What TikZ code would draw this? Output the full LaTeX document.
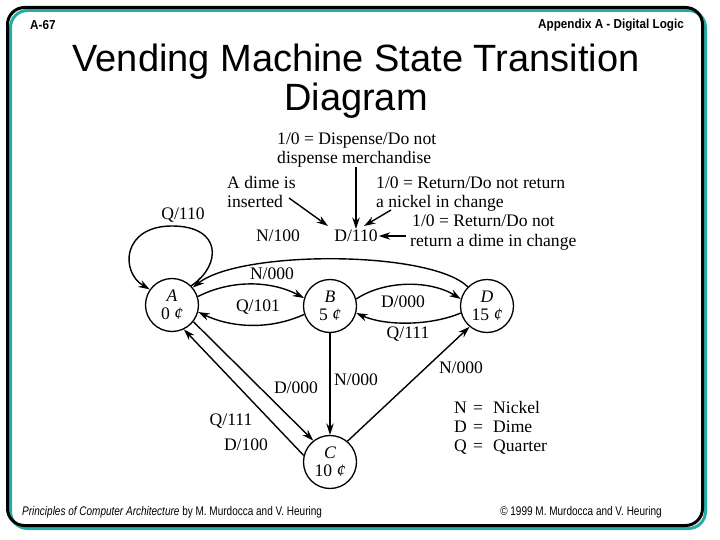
\documentclass[tikz,border=0pt]{standalone}
\usepackage{fontspec}
\setmainfont{Liberation Serif}
\newfontfamily\titlefont{Liberation Sans}
\newfontfamily\hdrfont{Liberation Sans}[FakeStretch=0.9]
\newfontfamily\ftrfont{Liberation Sans}[FakeStretch=0.8]
\usetikzlibrary{arrows.meta}
\definecolor{frameteal}{RGB}{38,172,166}
\tikzset{
  state/.style={circle, draw, line width=1.3pt, minimum size=53pt, inner sep=0pt,
    align=center, font=\fontsize{17.6}{18}\selectfont},
  lbl/.style={inner sep=1pt, font=\fontsize{17.6}{19}\selectfont},
  ann/.style={inner sep=0pt, anchor=base west, font=\fontsize{17.6}{19}\selectfont},
  arr/.style={line width=1.4pt, -{Stealth[length=11.5pt,width=7.5pt]}},
  titletext/.style={anchor=base, inner sep=0pt, font=\titlefont\fontsize{38}{40}\selectfont},
  hdrtext/.style={inner sep=0pt, font=\hdrfont\bfseries\fontsize{13}{14}\selectfont},
  ftrtext/.style={inner sep=0pt, font=\ftrfont\fontsize{12.5}{14}\selectfont},
}
\begin{document}
\begin{tikzpicture}[x=1pt,y=-1pt]
\useasboundingbox (0,0) rectangle (720,540);
\fill[white] (0,0) rectangle (720,540);
% frame
\draw[frameteal, line width=3pt, rounded corners=17pt] (10.5,10.5) rectangle (705.5,528.5);
\draw[black, line width=3pt, rounded corners=17pt] (7.5,7.5) rectangle (702.5,525.5);
% header / footer
\node[hdrtext, anchor=west] (hl) at (30,25) {A-67};
\node[hdrtext, anchor=east] (hr) at (684,25) {Appendix A - Digital Logic};
\node[ftrtext, anchor=west] (fl) at (22,512) {\textit{Principles of Computer Architecture} by M. Murdocca and V. Heuring};
\node[ftrtext, anchor=east] (fr) at (662,512) {© 1999 M. Murdocca and V. Heuring};
% title
\node[titletext] (t1) at (356,71.5) {Vending Machine State Transition};
\node[titletext] (t2) at (356,110.5) {Diagram};
% states
\node[state] (A) at (172,305) {\textit{A}\\0 \textit{¢}};
\node[state] (B) at (330,306) {\textit{B}\\5 \textit{¢}};
\node[state] (D) at (487,306) {\textit{D}\\15 \textit{¢}};
\node[state] (C) at (330,462) {\textit{C}\\10 \textit{¢}};
% labels
\node[lbl] (lq110) at (183,215) {Q/110};
\node[lbl] (N100) at (278,236) {N/100};
\node[lbl] (D110) at (356,236) {D/110};
\node[lbl] (lab1) at (272,274) {N/000};
\node[lbl] (lab2) at (258,307) {Q/101};
\node[lbl] (lab3) at (403,302) {D/000};
\node[lbl] (lab4) at (408,334) {Q/111};
\node[lbl] (lab5) at (356,380) {N/000};
\node[lbl] (lab6) at (296,388) {D/000};
\node[lbl] (lab7) at (231,421) {Q/111};
\node[lbl] (lab8) at (246,445) {D/100};
\node[lbl] (lab9) at (461,368) {N/000};
% legend
\node[ann] (gN) at (454,413.5) {N};
\node[ann, anchor=base] (gNe) at (478,413.5) {=};
\node[ann] (gNw) at (493,413.5) {Nickel};
\node[ann] (gD) at (454,432.5) {D};
\node[ann, anchor=base] (gDe) at (478,432.5) {=};
\node[ann] (gDw) at (493,432.5) {Dime};
\node[ann] (gQ) at (454,451.5) {Q};
\node[ann, anchor=base] (gQe) at (478,451.5) {=};
\node[ann] (gQw) at (493,451.5) {Quarter};
% annotations
\node[ann] (blk1a) at (277,144.5) {1/0 = Dispense/Do not};
\node[ann] (blk1b) at (277,163.5) {dispense merchandise};
\node[ann] (dimeA) at (227,188.5) {A dime is};
\node[ann] (dimeB) at (227,207.5) {inserted};
\node[ann] (nickA) at (376,188.5) {1/0 = Return/Do not return};
\node[ann] (nickB) at (376,207.5) {a nickel in change};
\node[ann] (rdA) at (412,226.5) {1/0 = Return/Do not};
\node[ann] (rdB) at (410,246.5) {return a dime in change};
\coordinate (dimeT) at (289,198);
\coordinate (dimeH) at (328,226);
\coordinate (nickT) at (391,210);
\coordinate (nickH) at (364,226);
\coordinate (rdT) at (406,236);
\draw[arr] (blk1b.south -| D110.north) -- (D110.north);
\draw[arr] (dimeT) -- (dimeH);
\draw[arr] (nickT) -- (nickH);
\draw[arr] (rdT) -- (D110.east);
% transitions
\draw[arr] (A.45) .. controls (222,265) and (222,226) .. (172,226)
                  .. controls (122,226) and (120,272) .. (A.145);
\draw[arr] (D.135) .. controls (430,250) and (240,250) .. (A.40);
\draw[arr] (A.18) .. controls (230,280) and (270,280) .. (B.163);
\draw[arr] (B.198) .. controls (270,330) and (232,328) .. (A.-15);
\draw[arr] (B.15) .. controls (385,280) and (430,280) .. (D.165);
\draw[arr] (D.195) .. controls (430,326) and (385,326) .. (B.-15);
\draw[arr] (B) -- (C);
\draw[arr] (A.-38) -- (C.128);
\draw[arr] (C.166) -- (A.-64);
\draw[arr] (C.50) -- (D.-130);
\end{tikzpicture}
\end{document}
